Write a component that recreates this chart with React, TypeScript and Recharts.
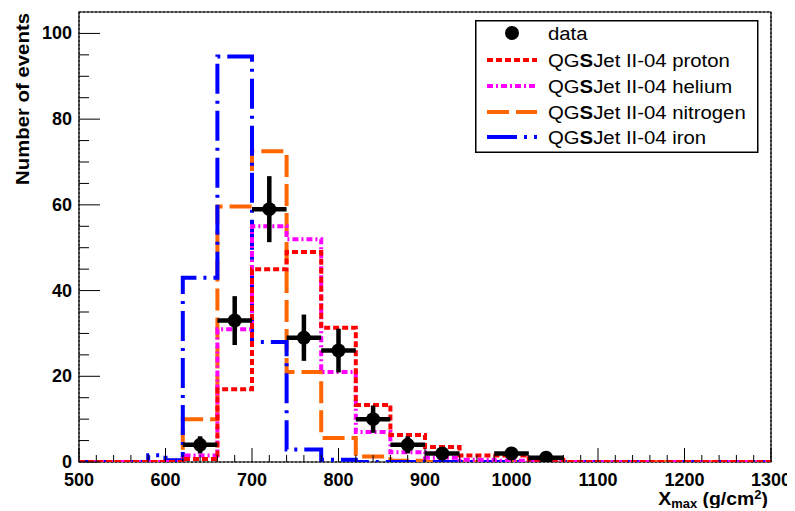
import React from 'react';
import {
  ComposedChart,
  Line,
  Scatter,
  XAxis,
  YAxis,
  CartesianGrid,
  ErrorBar,
  ReferenceArea,
} from 'recharts';

// ---- data ----
const binEdges = [500, 580, 600, 620, 660, 700, 740, 780, 820, 860, 900, 940, 980, 1020, 1060, 1300];
const protonCounts = [0, 0, 0, 0.7, 17, 45, 49, 31.3, 13.3, 6.3, 3.5, 1.5, 1.5, 0.5, 0];
const heliumCounts = [0, 0, 0, 1.5, 31, 55, 52, 21, 7, 2.3, 1, 0.5, 0.3, 0, 0];
const nitrogenCounts = [0, 0, 0.3, 10, 59.6, 72.5, 21, 5.6, 1.3, 0.3, 0, 0, 0, 0, 0];
const ironCounts = [0, 1.6, 0.4, 43, 94.6, 28, 2.9, 0.5, 0, 0, 0, 0, 0, 0, 0];

const dataXmax = [640, 680, 720, 760, 800, 840, 880, 920, 1000, 1040];
const dataCounts = [4, 33, 59, 29, 26, 10, 4, 2, 2, 1];
const dataErrY = [2, 5.7, 7.7, 5.4, 5.1, 3.2, 2, 1.4, 1.4, 1];
const dataErrX = [20, 20, 20, 20, 20, 20, 20, 20, 20, 20];

const xMajorTicks = [500, 600, 700, 800, 900, 1000, 1100, 1200, 1300];
const yMajorTicks = [0, 20, 40, 60, 80, 100];

const xAllTicks: number[] = [];
for (let v = 500; v <= 1300; v += 20) xAllTicks.push(v);
const yAllTicks: number[] = [];
for (let v = 0; v <= 100; v += 5) yAllTicks.push(v);

const toSteps = (counts: number[]) =>
  binEdges.map((x, i) => ({ x, y: i < counts.length ? counts[i] : counts[counts.length - 1] }));

const protonSteps = toSteps(protonCounts);
const heliumSteps = toSteps(heliumCounts);
const nitrogenSteps = toSteps(nitrogenCounts);
const ironSteps = toSteps(ironCounts);

const pointsData = dataXmax.map((x, i) => ({ x, y: dataCounts[i], ey: dataErrY[i], ex: dataErrX[i] }));

// ---- styles ----
const FONT = '"Liberation Sans", Arial, Helvetica, sans-serif';
const C_PROTON = '#ff0000';
const C_HELIUM = '#ff00ff';
const C_NITROGEN = '#ff6600';
const C_IRON = '#0000ff';
const D_PROTON = '6 3';
const D_HELIUM = '6 3 2 3';
const D_NITROGEN = '22 7';
const D_IRON = '30 7 3 7';
const LW = 4;
const STRETCH = 1.13;

const W = 787;
const H = 500;

const XTick = (props: any) => {
  const { x, y, payload } = props;
  const v = payload.value;
  const major = v % 100 === 0;
  return (
    <g>
      <line x1={x} x2={x} y1={y} y2={y - (major ? 14 : 7)} stroke="#000" strokeWidth={1} />
      {major && (
        <text x={x} y={y + 24} textAnchor="middle" fontFamily={FONT} fontWeight="bold" fontSize={18} fill="#000">
          {v}
        </text>
      )}
    </g>
  );
};

const YTick = (props: any) => {
  const { x, y, payload } = props;
  const v = payload.value;
  const major = v % 20 === 0;
  return (
    <g>
      <line x1={x} x2={x + (major ? 21 : 10)} y1={y} y2={y} stroke="#000" strokeWidth={1} />
      {major && (
        <text x={x - 7} y={y + 6} textAnchor="end" fontFamily={FONT} fontWeight="bold" fontSize={18} fill="#000">
          {v}
        </text>
      )}
    </g>
  );
};

const DataDot = (props: any) => {
  const { cx, cy } = props;
  return <circle cx={cx} cy={cy} r={7} fill="#000" />;
};

const legendRows = [
  { kind: 'data', name: 'data' },
  { kind: 'line', color: C_PROTON, dash: D_PROTON, pre: 'QG', bold: 'S', post: 'Jet II-04 proton' },
  { kind: 'line', color: C_HELIUM, dash: D_HELIUM, pre: 'QG', bold: 'S', post: 'Jet II-04 helium' },
  { kind: 'line', color: C_NITROGEN, dash: D_NITROGEN, pre: 'QG', bold: 'S', post: 'Jet II-04 nitrogen' },
  { kind: 'line', color: C_IRON, dash: D_IRON, pre: 'QG', bold: 'S', post: 'Jet II-04 iron' },
];
const legendRowY = [13, 40, 66, 92, 117];

const Legend = () => (
  <svg
    width={284}
    height={134}
    style={{ position: 'absolute', left: 467, top: 12, background: '#fff' }}
  >
    <rect x={0.75} y={0.75} width={282} height={131.5} fill="#fff" stroke="#000" strokeWidth={1.5} />
    {legendRows.map((r: any, i) => {
      const cy = legendRowY[i];
      return (
        <g key={i}>
          {r.kind === 'data' ? (
            <circle cx={37} cy={cy} r={7} fill="#000" />
          ) : (
            <line x1={12} x2={62} y1={cy} y2={cy} stroke={r.color} strokeWidth={LW} strokeDasharray={r.dash} />
          )}
          <text
            transform={`translate(73, ${cy + 6.5}) scale(${STRETCH}, 1)`}
            fontFamily={FONT}
            fontSize={18}
            fill="#000"
          >
            {r.kind === 'data' ? (
              r.name
            ) : (
              <>
                {r.pre}
                <tspan fontWeight="bold">{r.bold}</tspan>
                {r.post}
              </>
            )}
          </text>
        </g>
      );
    })}
  </svg>
);

export default function App() {
  return (
    <div style={{ position: 'relative', width: W, height: H }}>
      <ComposedChart width={W} height={H} margin={{ top: 4, right: 24, left: 11, bottom: 16 }}>
        <XAxis
          dataKey="x"
          type="number"
          domain={[500, 1300]}
          allowDataOverflow
          ticks={xAllTicks}
          interval={0}
          tick={<XTick />}
          tickLine={false}
          tickSize={0}
          tickMargin={0}
          axisLine={false}
          height={30}
        />
        <YAxis
          type="number"
          domain={[0, 105]}
          allowDataOverflow
          ticks={yAllTicks}
          interval={0}
          tick={<YTick />}
          tickLine={false}
          tickSize={0}
          tickMargin={0}
          axisLine={false}
          width={60}
        />
        <XAxis xAxisId="g" dataKey="x" type="number" domain={[500, 1300]} ticks={xMajorTicks} hide />
        <YAxis yAxisId="g" type="number" domain={[0, 105]} ticks={yMajorTicks} hide />
        <CartesianGrid xAxisId="g" yAxisId="g" stroke="#000" strokeDasharray="2 2" strokeWidth={1} />

        <Line data={nitrogenSteps} dataKey="y" type="stepAfter" stroke={C_NITROGEN} strokeWidth={LW} strokeDasharray={D_NITROGEN} dot={false} isAnimationActive={false} />
        <Line data={ironSteps} dataKey="y" type="stepAfter" stroke={C_IRON} strokeWidth={LW} strokeDasharray={D_IRON} dot={false} isAnimationActive={false} />
        <Line data={heliumSteps} dataKey="y" type="stepAfter" stroke={C_HELIUM} strokeWidth={LW} strokeDasharray={D_HELIUM} dot={false} isAnimationActive={false} />
        <Line data={protonSteps} dataKey="y" type="stepAfter" stroke={C_PROTON} strokeWidth={LW} strokeDasharray={D_PROTON} dot={false} isAnimationActive={false} />

        <Scatter data={pointsData} dataKey="y" fill="#000" shape={<DataDot />} isAnimationActive={false}>
          <ErrorBar dataKey="ey" direction="y" width={0} stroke="#000" strokeWidth={4.5} isAnimationActive={false} />
          <ErrorBar dataKey="ex" direction="x" width={0} stroke="#000" strokeWidth={4.5} isAnimationActive={false} />
        </Scatter>

        <ReferenceArea x1={500} x2={1300} y1={0} y2={105} fill="none" fillOpacity={0} stroke="#000" strokeWidth={1.2} ifOverflow="visible" />
      </ComposedChart>

      <Legend />

      <svg width={W} height={503} style={{ position: 'absolute', left: 0, top: 0, pointerEvents: 'none' }}>
        <text
          transform="translate(20.5, 5) rotate(-90)"
          textAnchor="end"
          textLength={172}
          lengthAdjust="spacingAndGlyphs"
          fontFamily={FONT}
          fontWeight="bold"
          fontSize={18}
          fill="#000"
        >
          Number of events
        </text>
        <text
          transform={`translate(760, 496.5) scale(1.08, 1)`}
          textAnchor="end"
          fontFamily={FONT}
          fontWeight="bold"
          fontSize={18}
          fill="#000"
        >
          X<tspan fontSize={12} dy={3}>max</tspan>
          <tspan dy={-3}> (g/cm</tspan>
          <tspan fontSize={12} dy={-6}>2</tspan>
          <tspan dy={6}>)</tspan>
        </text>
      </svg>
    </div>
  );
}
